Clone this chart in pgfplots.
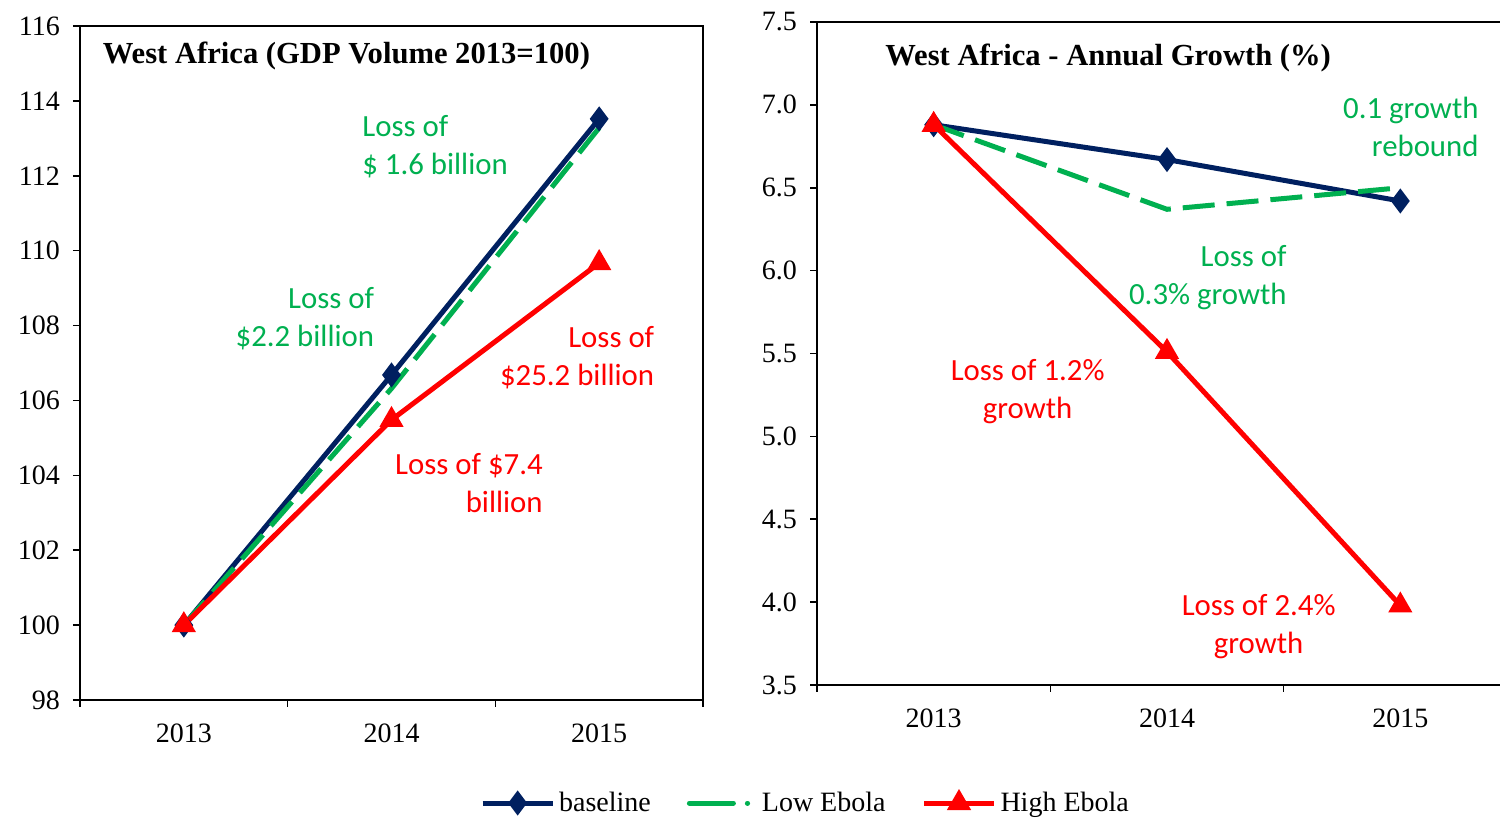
\documentclass[border=0pt]{standalone}
\usepackage{pgfplots}
\pgfplotsset{compat=1.18}
\usepackage{fontspec}
\setmainfont{Liberation Serif}
\newfontfamily\calibri{Carlito}
\definecolor{navy}{RGB}{0,32,96}
\definecolor{lgreen}{RGB}{0,176,80}
\definecolor{lred}{RGB}{255,0,0}
\tikzset{ann/.style={font=\calibri\fontsize{15.4}{19}\selectfont, inner sep=0pt}}
\pgfplotsset{
  mystyle/.style={
    scale only axis,
    xmin=0.5, xmax=3.5,
    xtick={0.5,1.5,2.5,3.5},
    xticklabels={2013,2014,2015},
    x tick label as interval,
    tick align=outside,
    tick pos=left,
    major tick length=3.5pt,
    tick style={black, line width=0.8pt},
    axis line style={line width=1pt},
    tick label style={font=\fontsize{14}{16}\selectfont},
    xticklabel style={yshift=-5pt},
    yticklabel style={xshift=-3pt},
    /pgf/number format/assume math mode=true,
    clip=false,
    legend image code/.code={\draw[mark repeat=2,mark phase=2,##1] plot coordinates {(0pt,0pt) (17.5pt,0pt) (35pt,0pt)};},
  },
  base/.style={navy, line width=2.5pt, mark=diamond*, mark size=4.2pt, mark options={solid}},
  low/.style={lgreen, line width=2.5pt, dash pattern=on 16pt off 6pt, no marks},
  high/.style={lred, line width=2.5pt, mark=triangle*, mark size=4.5pt, mark options={solid}},
}
\begin{document}
\begin{tikzpicture}
\path[use as bounding box] (0,0) rectangle (750pt,409.5pt);
\begin{axis}[mystyle, at={(40pt,59.5pt)}, anchor=south west, width=311.5pt, height=337pt,
  ymin=98, ymax=116, ytick={98,100,102,104,106,108,110,112,114,116}]
\addplot[base] coordinates {(1,100) (2,106.68) (3,113.52)};
\addplot[low] coordinates {(1,100) (2,106.32) (3,113.28)};
\addplot[high] coordinates {(1,100) (2,105.48) (3,109.67)};
\node[anchor=west, font=\bfseries\fontsize{15.3}{18}\selectfont, inner sep=0pt] at (rel axis cs:0.036,0.955) {West Africa (GDP Volume 2013=100)};
\node[ann, lgreen, align=left] at (axis cs:2.21,112.77) {Loss of\\\$ 1.6 billion};
\node[ann, lgreen, align=right] at (axis cs:1.583,108.18) {Loss of\\\$2.2 billion};
\node[ann, lred, align=right] at (axis cs:2.894,107.14) {Loss of\\\$25.2 billion};
\node[ann, lred, align=right] at (axis cs:2.373,103.80) {Loss of \$7.4\\billion};
\end{axis}
\begin{axis}[mystyle, at={(408.5pt,67pt)}, anchor=south west, width=350pt, height=331.5pt,
  ymin=3.5, ymax=7.5, ytick={3.5,4.0,4.5,5.0,5.5,6.0,6.5,7.0,7.5},
  yticklabel style={/pgf/number format/.cd, fixed, fixed zerofill, precision=1},
  legend style={at={(axis description cs:-0.015,-0.178)}, anchor=center, draw=none, fill=none,
    legend columns=3, font=\fontsize{14}{16}\selectfont,
    /tikz/every even column/.append style={column sep=16pt}}]
\addplot[base] coordinates {(1,6.88) (2,6.67) (3,6.42)};
\addlegendentry{baseline}
\addplot[low, legend image code/.code={\draw[lgreen, line width=2.5pt, line cap=round, dash pattern=on 22pt off 7pt on 0.1pt off 10pt] (0pt,0pt) -- (33pt,0pt);}] coordinates {(1,6.88) (2,6.37) (3,6.50)};
\addlegendentry{Low Ebola}
\addplot[high] coordinates {(1,6.88) (2,5.51) (3,3.98)};
\addlegendentry{High Ebola}
\node[anchor=west, font=\bfseries\fontsize{15.3}{18}\selectfont, inner sep=0pt] at (rel axis cs:0.097,0.945) {West Africa - Annual Growth (\%)};
\node[ann, lgreen, align=right] at (axis cs:3.045,6.87) {0.1 growth\\rebound};
\node[ann, lgreen, align=right] at (axis cs:2.175,5.96) {Loss of\\0.3\% growth};
\node[ann, lred, align=center] at (axis cs:1.403,5.27) {Loss of 1.2\%\\growth};
\node[ann, lred, align=center] at (axis cs:2.393,3.85) {Loss of 2.4\%\\growth};
\end{axis}
\end{tikzpicture}
\end{document}
